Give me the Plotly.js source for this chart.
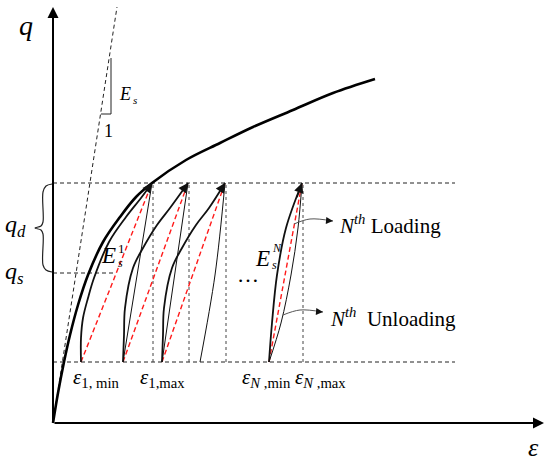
<!DOCTYPE html>
<html>
<head>
<meta charset="utf-8">
<script src="https://cdn.plot.ly/plotly-3.0.1.min.js"></script>
<style>
  html, body { margin: 0; padding: 0; background: #fff; }
  #chart { width: 550px; height: 462px; }
</style>
</head>
<body>
<div id="chart"></div>
<script>
// values (arbitrary strain / stress units)
const qMin = 61, qMax = 240, qS = 150;
const dashEnd = 402;      // right end of the q_min / q_max guide lines
const qsEnd = 62;         // right end of the q_s guide line
const epsAxisEnd = 491, qAxisEnd = 416;

const backboneEps = [0, 5, 11, 17, 25, 35, 50, 67, 83, 99, 133, 167, 200, 240, 280, 322];
const backboneQ   = [0, 30, 61, 88, 118, 148, 181, 206, 226, 240, 263, 280, 296, 313, 330, 344];

const esLineEps = [0, 64];
const esLineQ   = [0, 416];
const slopeEps  = [58, 58, 48];
const slopeQ    = [365, 309, 309];

const peakEps  = [99, 135, 172, 249];   // eps_max of each cycle
const troughEps = [28, 70, 109, 216];   // eps_min of each cycle

const loadEps = [
  [28, 28, 30, 35, 41, 56, 73, 88, 99],
  [70, 71, 72, 80, 90, 104, 117, 135],
  [109, 110, 111, 119, 129, 143, 156, 172],
  [216, 219, 224, 233, 249]
];
const loadQ = [
  [61, 85, 105, 125, 145, 181, 206, 225, 240],
  [61, 88, 115, 155, 175, 198, 215, 240],
  [61, 88, 115, 155, 175, 198, 215, 240],
  [61, 100, 148, 195, 240]
];
const unloadEps = [
  [99, 70],
  [135, 109],
  [172, 162, 147],
  [249, 245, 238, 228, 216]
];
const unloadQ = [
  [240, 61],
  [240, 61],
  [240, 148, 61],
  [240, 195, 148, 100, 61]
];

const loadPointerEps = [241, 257, 280];
const loadPointerQ   = [199, 204, 202];
const unloadPointerEps = [230, 247, 270];
const unloadPointerQ   = [108, 113, 111];

const serif = 'Liberation Serif, Times New Roman, serif';

function line(x, y, color, width, dash, shape) {
  return {
    x: x, y: y, type: 'scatter', mode: 'lines', hoverinfo: 'skip',
    line: { color: color, width: width, dash: dash || 'solid', shape: shape || 'linear' }
  };
}

const traces = [];
// guide lines
traces.push(line([0, dashEnd], [qMax, qMax], '#222', 1, '4px,3px'));
traces.push(line([0, dashEnd], [qMin, qMin], '#222', 1, '4px,3px'));
traces.push(line([0, qsEnd], [qS, qS], '#222', 1, '4px,3px'));
peakEps.forEach(e => traces.push(line([e + 1, e + 1], [qMin, qMax], '#444', 1, 'dot')));
// initial modulus line and slope triangle
traces.push(line(esLineEps, esLineQ, '#222', 1, '4px,3px'));
traces.push(line(slopeEps, slopeQ, '#222', 1));
// secant moduli
peakEps.forEach((e, i) => traces.push(line([troughEps[i], e], [qMin, qMax], '#ff1a1a', 1.4, '5px,3px')));
// loading / unloading loops
unloadEps.forEach((xs, i) => traces.push(line(xs, unloadQ[i], '#111', 1, 'solid', 'spline')));
loadEps.forEach((xs, i) => traces.push(line(xs, loadQ[i], '#111', 1.8, 'solid', 'spline')));
// backbone curve
traces.push(line(backboneEps, backboneQ, '#000', 2.6, 'solid', 'spline'));
// label pointers
traces.push(line(loadPointerEps, loadPointerQ, '#555', 1, 'solid', 'spline'));
traces.push(line(unloadPointerEps, unloadPointerQ, '#555', 1, 'solid', 'spline'));

// brace between q_s and q_d
const braceMid = (qMax + qS) / 2;
traces.push(line(
  [-1, -7, -10, -10, -12, -18, -12, -10, -10, -7, -1],
  [qMax - 1, qMax - 3, qMax - 9, braceMid + 6, braceMid + 2, braceMid, braceMid - 2, braceMid - 6, qS + 8, qS + 3, qS + 1],
  '#222', 1.2, 'solid', 'spline'));

function txt(x, y, text, size, anchor) {
  return { x: x, y: y, text: text, showarrow: false, xanchor: anchor || 'center', yanchor: 'middle',
           font: { family: serif, size: size, color: '#000' } };
}
function arrowHead(xs, ys, color, width, size) {
  const n = xs.length;
  const f = 0.35;
  return { x: xs[n - 1], y: ys[n - 1], ax: xs[n - 1] - f * (xs[n - 1] - xs[n - 2]),
           ay: ys[n - 1] - f * (ys[n - 1] - ys[n - 2]), axref: 'x', ayref: 'y', text: '',
           showarrow: true, arrowhead: 2, arrowsize: size, arrowwidth: width, arrowcolor: color, standoff: 0 };
}

const annotations = [
  // axes
  { x: 0, y: qAxisEnd, ax: 0, ay: 0, axref: 'x', ayref: 'y', text: '', showarrow: true,
    arrowhead: 2, arrowsize: 1.1, arrowwidth: 2, arrowcolor: '#000', standoff: 0 },
  { x: epsAxisEnd, y: 0, ax: 0, ay: 0, axref: 'x', ayref: 'y', text: '', showarrow: true,
    arrowhead: 2, arrowsize: 1.1, arrowwidth: 2, arrowcolor: '#000', standoff: 0 },
  txt(-27, 398, '<i>q</i>', 28),
  txt(480, -24, '<i>ε</i>', 26),
  txt(-38, 197, '<i>q</i><sub><i>d</i></sub>', 24),
  txt(-39, 150, '<i>q</i><sub><i>s</i></sub>', 24),
  txt(72, 329, '<i>E</i>', 18), txt(78, 323, '<i>s</i>', 11, 'left'),
  txt(55, 292, '1', 18),
  txt(55, 168, '<i>E</i>', 23), txt(63, 175, '1', 13, 'left'), txt(63, 160, '<i>s</i>', 12, 'left'),
  txt(209, 165, '<i>E</i>', 23), txt(217, 175, '<i>N</i>', 12, 'left'), txt(217, 158, '<i>s</i>', 12, 'left'),
  txt(195, 149, '…', 22),
  txt(284, 199, '<i>N</i><sup><i>th</i></sup> Loading', 21, 'left'),
  txt(275, 106, '<i>N</i><sup><i>th</i></sup>&nbsp; Unloading', 21, 'left'),
  txt(18, 45, '<i>ε</i><sub>1, min</sub>', 21, 'left'),
  txt(85, 45, '<i>ε</i><sub>1,max</sub>', 21, 'left'),
  txt(187, 45, '<i>ε</i><sub><i>N</i> ,min</sub>', 21, 'left'),
  txt(240, 45, '<i>ε</i><sub><i>N</i> ,max</sub>', 21, 'left'),
  arrowHead(loadPointerEps, loadPointerQ, '#111', 1, 1.4),
  arrowHead(unloadPointerEps, unloadPointerQ, '#111', 1, 1.4)
];
loadEps.forEach((xs, i) => annotations.push(arrowHead(xs, loadQ[i], '#111', 1.6, 1.2)));

const layout = {
  width: 550, height: 462,
  margin: { l: 0, r: 0, t: 0, b: 0 },
  paper_bgcolor: '#fff', plot_bgcolor: '#fff',
  showlegend: false,
  font: { family: serif },
  xaxis: { range: [-53, 497], visible: false, fixedrange: true },
  yaxis: { range: [-39, 423], visible: false, fixedrange: true },
  annotations: annotations
};

Plotly.newPlot('chart', traces, layout, { staticPlot: true });
</script>
</body>
</html>
